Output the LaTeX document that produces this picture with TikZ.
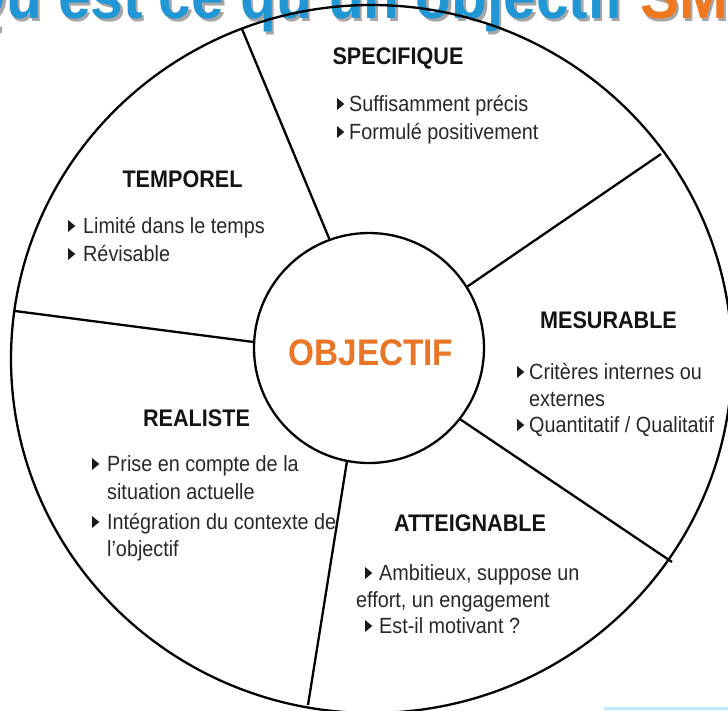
\documentclass[tikz,border=0pt]{standalone}
\usepackage{fontspec}
\setmainfont{Liberation Sans}[FakeStretch=0.9]
\definecolor{objorange}{RGB}{232,118,38}
\definecolor{titleblue}{RGB}{32,150,212}
\definecolor{titleorange}{RGB}{240,120,30}
\definecolor{bodygray}{RGB}{40,40,40}
% #1 = node name, #2 = distance from triangle start to text start
\newcommand{\bul}[2]{\fill[black!90] ([shift={(-#2,-1)}]#1.base west) -- ++(0,-12) -- ++(7.3,6) -- cycle;}
\tikzset{
  head/.style={font=\fontsize{24}{28}\selectfont\bfseries, text=black!92, inner sep=0pt, anchor=base},
  item/.style={font=\fontsize{22}{27}\selectfont, text=bodygray, inner sep=0pt, anchor=base west},
  ring/.style={line width=2.3pt, draw=black},
  titletext/.style={font=\fontsize{65}{70}\selectfont\bfseries, inner sep=0pt},
}
\begin{document}
\begin{tikzpicture}[x=1pt,y=-1pt]
\useasboundingbox (0,0) rectangle (728,710);
\clip (0,0) rectangle (728,710);
\fill[white] (0,0) rectangle (728,710);
% title (cut off at the top)
\node[titletext, text=black!35, anchor=base east] (t1s) at (626.5,21) {Qu’est ce qu’un objectif};
\node[titletext, text=black!35, anchor=base west] (t2s) at (642.5,21) {SMART ?};
\node[titletext, text=titleblue, anchor=base east] (t1) at (624,18) {Qu’est ce qu’un objectif};
\node[titletext, text=titleorange, anchor=base west] (t2) at (640,18) {SMART ?};
% faint bar bottom right
\fill[cyan!25] (604,706.5) rectangle (728,710);
% outer ring
\draw[ring] (371.5,359) ellipse [x radius=360.5, y radius=354];
% centre
\node[circle, ring, fill=white, minimum size=230pt, inner sep=0pt] (obj) at (369,348) {};
\node[font=\fontsize{37}{40}\selectfont\bfseries, text=objorange, inner sep=0pt, anchor=base] (objt) at (371,365) {OBJECTIF};
% divider end points on the outer ring
\coordinate (A) at (242,29);
\coordinate (B) at (661,154);
\coordinate (F) at (672,562);
\coordinate (H) at (308,705);
\coordinate (I) at (15,311);
\draw[ring] (obj.110.6) -- (A);
\draw[ring] (obj.32.3) -- (B);
\draw[ring] (obj.-38.4) -- (F);
\draw[ring] (obj.259.2) -- (H);
\draw[ring] (obj.177) -- (I);
% SPECIFIQUE
\node[head] (hs) at (398,64.5) {SPECIFIQUE};
\node[item] (s1) at (349,111) {Suffisamment précis};
\node[item] (s2) at (349,139) {Formulé positivement};
% TEMPOREL
\node[head] (ht) at (182.5,187) {TEMPOREL};
\node[item] (t1a) at (83,233) {Limité dans le temps};
\node[item] (t2a) at (83,261) {Révisable};
% MESURABLE
\node[head] (hm) at (608.5,328) {MESURABLE};
\node[item] (m1) at (529,379) {Critères internes ou};
\node[item] (m2) at (529,406) {externes};
\node[item] (m3) at (529,432) {Quantitatif / Qualitatif};
% REALISTE
\node[head] (hr) at (196.5,426) {REALISTE};
\node[item] (r1) at (107,471) {Prise en compte de la};
\node[item] (r2) at (107,499) {situation actuelle};
\node[item] (r3) at (107,529) {Intégration du contexte de};
\node[item] (r4) at (107,556) {l’objectif};
% ATTEIGNABLE
\node[head] (ha) at (470,531) {ATTEIGNABLE};
\node[item] (a1) at (379,580) {Ambitieux, suppose un};
\node[item] (a2) at (356,607) {effort, un engagement};
\node[item] (a3) at (379,633) {Est-il motivant ?};
% bullets
\bul{s1}{12}\bul{s2}{12}
\bul{t1a}{15}\bul{t2a}{15}
\bul{m1}{12}\bul{m3}{12}
\bul{r1}{15}\bul{r3}{15}
\bul{a1}{14}\bul{a3}{14}
\end{tikzpicture}
\end{document}
